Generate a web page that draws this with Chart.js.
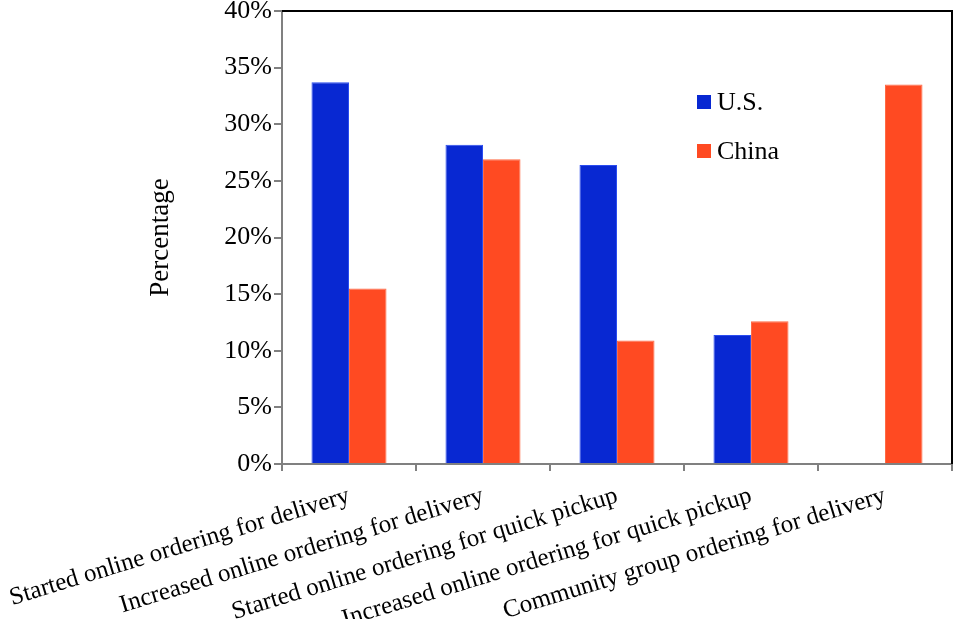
<!DOCTYPE html>
<html>
<head>
<meta charset="utf-8">
<script src="https://cdn.jsdelivr.net/npm/chart.js@4.4.1/dist/chart.umd.min.js"></script>
<style>
  html, body { margin: 0; padding: 0; background: #fff; }
  #wrap { width: 957px; height: 619px; position: relative; }
</style>
</head>
<body>
<div id="wrap"><canvas id="c"></canvas></div>
<script>
const categories = [
  'Started online ordering for delivery',
  'Increased online ordering for delivery',
  'Started online ordering for quick pickup',
  'Increased online ordering for quick pickup',
  'Community group ordering for delivery'
];
const seriesNames = ['U.S.', 'China'];
const usValues = [33.7, 28.2, 26.4, 11.4, null];
const chinaValues = [15.5, 26.9, 10.9, 12.6, 33.5];
const yTicks = [0, 5, 10, 15, 20, 25, 30, 35, 40];
const yTitle = 'Percentage';

const FONT = "'Liberation Serif', 'Times New Roman', serif";
const BLUE = '#0828d2';
const ORANGE = '#ff4a22';

const framePlugin = {
  id: 'frame',
  afterDatasetsDraw(chart) {
    const { ctx, chartArea: a } = chart;
    ctx.save();
    ctx.strokeStyle = '#000';
    ctx.lineWidth = 2;
    ctx.beginPath();
    ctx.moveTo(a.left, a.top);
    ctx.lineTo(a.right, a.top);
    ctx.lineTo(a.right, a.bottom);
    ctx.stroke();
    ctx.restore();
  },
  afterDraw(chart) {
    const { ctx, chartArea: a } = chart;
    ctx.save();
    ctx.font = '26px ' + FONT;
    ctx.textBaseline = 'middle';
    ctx.textAlign = 'left';
    const x0 = a.left + 415;
    const ys = [a.top + 91, a.top + 140];
    chart.data.datasets.forEach((ds, i) => {
      ctx.fillStyle = ds.backgroundColor;
      ctx.fillRect(x0, ys[i] - 7, 14, 14);
      ctx.fillStyle = '#000';
      ctx.fillText(ds.label, x0 + 20, ys[i] + 1);
    });
    ctx.restore();
  }
};

new Chart(document.getElementById('c'), {
  type: 'bar',
  data: {
    labels: categories,
    datasets: [
      { label: seriesNames[0], data: usValues, backgroundColor: BLUE, borderColor: '#2a4cf0', borderWidth: 1 },
      { label: seriesNames[1], data: chinaValues, backgroundColor: ORANGE, borderColor: '#ff6a44', borderWidth: 1 }
    ]
  },
  options: {
    responsive: true,
    maintainAspectRatio: false,
    animation: false,
    devicePixelRatio: 1,
    layout: { padding: { top: 11, right: 5, left: 0, bottom: 0 } },
    datasets: { bar: { categoryPercentage: 0.56, barPercentage: 1.0 } },
    plugins: { legend: { display: false }, tooltip: { enabled: false } },
    scales: {
      x: {
        grid: { drawOnChartArea: false, drawTicks: true, tickLength: 7, color: '#808080', lineWidth: 2 },
        border: { display: true, color: '#808080', width: 2 },
        ticks: {
          autoSkip: false, minRotation: 17, maxRotation: 17, padding: 10,
          color: '#000', font: { family: FONT, size: 25 }
        },
        afterFit(scale) { scale.height = 155; scale.paddingLeft = 0; scale.paddingRight = 0; }
      },
      y: {
        min: 0, max: 40,
        afterBuildTicks(scale) { scale.ticks = yTicks.map(v => ({ value: v })); },
        grid: { drawOnChartArea: false, drawTicks: true, tickLength: 8, color: '#808080', lineWidth: 2 },
        border: { display: true, color: '#808080', width: 2 },
        ticks: {
          padding: 2, color: '#000', font: { family: FONT, size: 26 },
          callback: v => v + '%'
        },
        title: { display: true, text: yTitle, color: '#000', font: { family: FONT, size: 27 }, padding: { top: 145, bottom: 0 } },
        afterFit(scale) { scale.width = 282; scale.paddingTop = 0; scale.paddingBottom = 0; }
      }
    }
  },
  plugins: [framePlugin]
});
</script>
</body>
</html>
